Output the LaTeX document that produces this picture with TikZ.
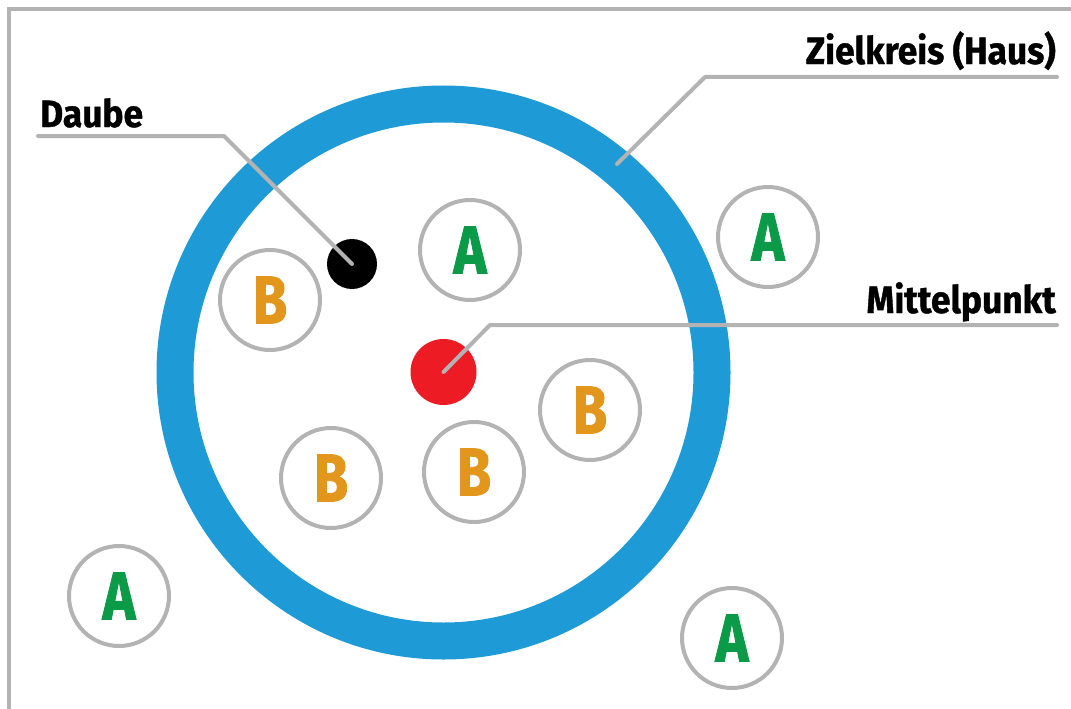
\documentclass[tikz,border=0pt]{standalone}
\usepackage{fontspec}
\setmainfont{Fira Sans}[BoldFont={Fira Sans Bold}]
\newfontfamily\condfont{Fira Sans Bold}[FakeStretch=0.82,FakeBold=1.2]
\newfontfamily\lblfont{Fira Sans Bold}[FakeStretch=0.93,FakeBold=1.0]
\definecolor{ringblue}{HTML}{1E9BD7}
\definecolor{lgray}{HTML}{B3B3B3}
\definecolor{agreen}{HTML}{0A9A48}
\definecolor{borange}{HTML}{E2961B}
\definecolor{dred}{HTML}{ED1C24}
\begin{document}
\begin{tikzpicture}[x=1pt,y=-1pt,
  stone/.style={circle,draw=lgray,line width=4pt,minimum size=100pt,inner sep=0pt,fill=white,font=\condfont\fontsize{68}{68}\selectfont},
  lead/.style={draw=lgray,line width=4pt,line cap=round,line join=round},
  lbl/.style={font=\lblfont\fontsize{38}{38}\selectfont,inner sep=0pt,text=black}]
\useasboundingbox (0,0) rectangle (1071,709);
\draw[lgray,line width=4.5pt] (9,709) -- (9,9) -- (1071,9);
% ring
\node[circle,draw=ringblue,line width=37pt,minimum size=537pt,inner sep=0pt] (ring) at (443.5,372.5) {};
% stones
\node[stone,text=agreen] (a1) at (470,250) {A};
\node[stone,text=agreen] (a2) at (768,237) {A};
\node[stone,text=agreen] (a3) at (119,596) {A};
\node[stone,text=agreen] (a4) at (732,638) {A};
\node[stone,text=borange] (b1) at (270,300) {B};
\node[stone,text=borange] (b2) at (590,410) {B};
\node[stone,text=borange] (b3) at (331,478) {B};
\node[stone,text=borange] (b4) at (474,472) {B};
% jack and center
\node[circle,fill=black,minimum size=50pt,inner sep=0pt] (daube) at (352,264) {};
\node[circle,fill=dred,minimum size=66pt,inner sep=0pt] (mitte) at (443.5,372) {};
% leaders
\coordinate (dl) at (38,136);
\coordinate (dk) at (224,136);
\draw[lead] (dl) -- (dk) -- (daube.center);
\coordinate (zl) at (1057,77);
\coordinate (zk) at (705,77);
\coordinate (ze) at (617,164);
\draw[lead] (zl) -- (zk) -- (ze);
\coordinate (ml) at (1057,325);
\coordinate (mk) at (490,325);
\draw[lead] (ml) -- (mk) -- (mitte.center);
% labels
\node[lbl,anchor=base west] (tdaube) at (40,127) {Daube};
\node[lbl,anchor=base east] (tziel) at (1056,64) {Zielkreis (Haus)};
\node[lbl,anchor=base east] (tmitte) at (1056,313) {Mittelpunkt};
\end{tikzpicture}
\end{document}
